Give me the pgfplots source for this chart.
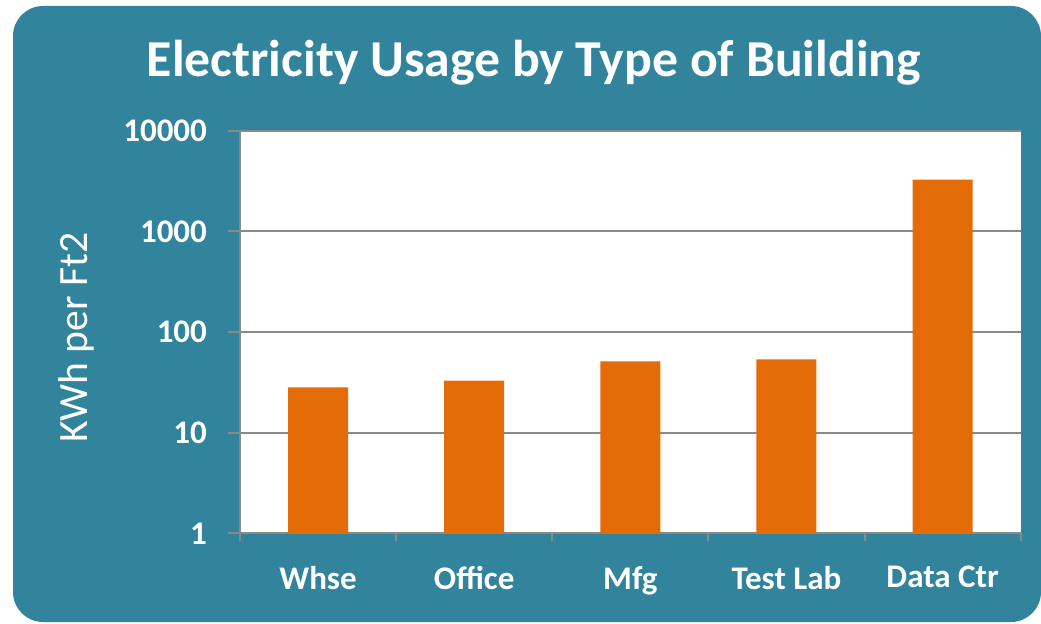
\documentclass[border=0pt]{standalone}
\usepackage{fontspec}
\setmainfont{Carlito}
\usepackage{pgfplots}
\pgfplotsset{compat=1.18}
\definecolor{teal5}{HTML}{31849B}
\definecolor{barorange}{HTML}{E36C09}
\definecolor{axgray}{HTML}{898989}
\begin{document}
\begin{tikzpicture}
\useasboundingbox (0,0) rectangle (520.5pt,311.5pt);
\fill[teal5, rounded corners=15pt] (6.5pt,0.5pt) rectangle (520.5pt,308.5pt);
\node[text=white, font=\fontsize{25.9}{30}\selectfont\bfseries] at (267pt,280pt) {Electricity Usage by Type of Building};
\node[text=white, rotate=90, font=\fontsize{20.8}{24}\selectfont] at (38.35pt,142.75pt) {KWh per Ft2};
\begin{axis}[
  at={(120pt,44.85pt)}, anchor=south west,
  scale only axis, width=390.35pt, height=201.3pt,
  axis background/.style={fill=white},
  ymode=log, log basis y=10, ymin=1, ymax=10000,
  xmin=-0.5, xmax=4.5,
  ybar, bar width=30pt,
  axis x line*=bottom, axis y line*=left,
  axis line style={axgray, line width=1pt},
  ymajorgrids, grid style={axgray, line width=1pt},
  ytick={1,10,100,1000,10000},
  yticklabels={1,10,100,1000,10000},
  xtick={0,1,2,3,4},
  xticklabels={Whse,Office,Mfg,Test Lab,Data Ctr},
  major x tick style={draw=none},
  minor xtick={-0.5,0.5,1.5,2.5,3.5,4.5},
  minor x tick style={axgray, line width=1pt},
  major y tick style={axgray, line width=1pt},
  minor y tick num=0,
  tick align=outside,
  major tick length=6pt, minor tick length=4pt,
  /pgf/number format/assume math mode=true,
  tick label style={text=white, font=\fontsize{16.5}{20}\selectfont\bfseries},
  yticklabel style={xshift=-7pt},
  xticklabel style={yshift=-7pt},
  clip=false,
]
\addplot[fill=barorange, draw=none] coordinates {(0,28.2) (1,32.8) (2,51) (3,53.5) (4,3270)};
\end{axis}
\end{tikzpicture}
\end{document}
